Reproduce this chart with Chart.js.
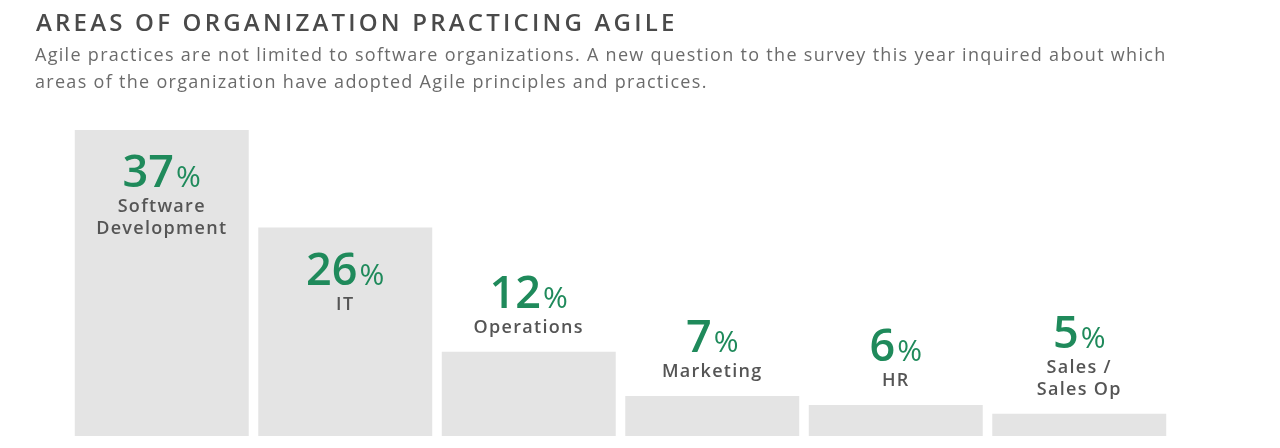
<!DOCTYPE html>
<html>
<head>
<meta charset="utf-8">
<script src="https://cdn.jsdelivr.net/npm/chart.js@4/dist/chart.umd.min.js"></script>
<style>
  html, body { margin: 0; padding: 0; background: #ffffff; width: 1280px; height: 448px; overflow: hidden; }
  #wrap { position: relative; width: 1280px; height: 448px; }
  #chart { position: absolute; left: 0; top: 0; }
  #title { position: absolute; left: 36px; top: 10px; font-family: "Open Sans", sans-serif; font-weight: 600;
           font-size: 24px; line-height: 24px; letter-spacing: 3.2px; color: #4a4a4a; white-space: nowrap; }
  #subtitle { position: absolute; left: 35px; top: 41px; font-family: "Open Sans", sans-serif; font-weight: 400;
              font-size: 18px; line-height: 26.5px; letter-spacing: 1.3px; color: #6b6b6b; white-space: nowrap; }
</style>
</head>
<body>
<div id="wrap">
  <canvas id="chart" width="1280" height="448"></canvas>
  <div id="title"></div>
  <div id="subtitle"></div>
</div>
<script>
const titleText = "AREAS OF ORGANIZATION PRACTICING AGILE";
const subtitleLines = [
  "Agile practices are not limited to software organizations. A new question to the survey this year inquired about which",
  "areas of the organization have adopted Agile principles and practices."
];
const categories = [["Software", "Development"], ["IT"], ["Operations"], ["Marketing"], ["HR"], ["Sales /", "Sales Op"]];
const percentages = [37, 26, 12, 7, 6, 5];

document.getElementById("title").textContent = titleText;
document.getElementById("subtitle").innerHTML = subtitleLines.join("<br>");

const GREEN = "#1f8a5b";
const NAME_COLOR = "#555555";

const labelPlugin = {
  id: "barLabels",
  afterDatasetsDraw(chart) {
    const ctx = chart.ctx;
    const meta = chart.getDatasetMeta(0);
    const digitFont = '600 45px "Open Sans", sans-serif';
    const pctFont = '400 30px "Open Sans", sans-serif';
    const nameFont = '600 18px "Open Sans", sans-serif';
    ctx.save();
    ctx.textBaseline = "alphabetic";
    meta.data.forEach((el, i) => {
      const lines = chart.data.labels[i];
      const value = chart.data.datasets[0].data[i];
      const h = el.base - el.y;
      let numBase;
      if (h > 150) {
        numBase = el.y + 57;
      } else {
        const lastBase = el.y - 19;
        numBase = lastBase - 25 - 22 * (lines.length - 1);
      }
      const digits = String(value);
      ctx.letterSpacing = "0px";
      ctx.font = digitFont;
      const dw = ctx.measureText(digits).width;
      ctx.font = pctFont;
      const pw = ctx.measureText("%").width;
      const gap = 2;
      const x0 = el.x - (dw + gap + pw) / 2;
      ctx.fillStyle = GREEN;
      ctx.textAlign = "left";
      ctx.font = digitFont;
      ctx.fillText(digits, x0, numBase);
      ctx.font = pctFont;
      ctx.fillText("%", x0 + dw + gap, numBase);
      ctx.font = nameFont;
      ctx.letterSpacing = "1.3px";
      ctx.fillStyle = NAME_COLOR;
      ctx.textAlign = "center";
      lines.forEach((ln, k) => {
        ctx.fillText(ln, el.x, numBase + 25 + 22 * k);
      });
    });
    ctx.restore();
  }
};

new Chart(document.getElementById("chart"), {
  type: "bar",
  data: {
    labels: categories,
    datasets: [{
      data: percentages,
      backgroundColor: "#e4e4e4",
      borderWidth: 0,
      barPercentage: 0.948,
      categoryPercentage: 1.0
    }]
  },
  options: {
    responsive: false,
    animation: false,
    devicePixelRatio: 1,
    layout: { padding: { top: 130, bottom: 12, left: 70, right: 109 } },
    scales: {
      x: { display: false },
      y: { display: false, min: 2.5, max: 37 }
    },
    plugins: {
      legend: { display: false },
      tooltip: { enabled: false },
      title: { display: false }
    }
  },
  plugins: [labelPlugin]
});
</script>
</body>
</html>
